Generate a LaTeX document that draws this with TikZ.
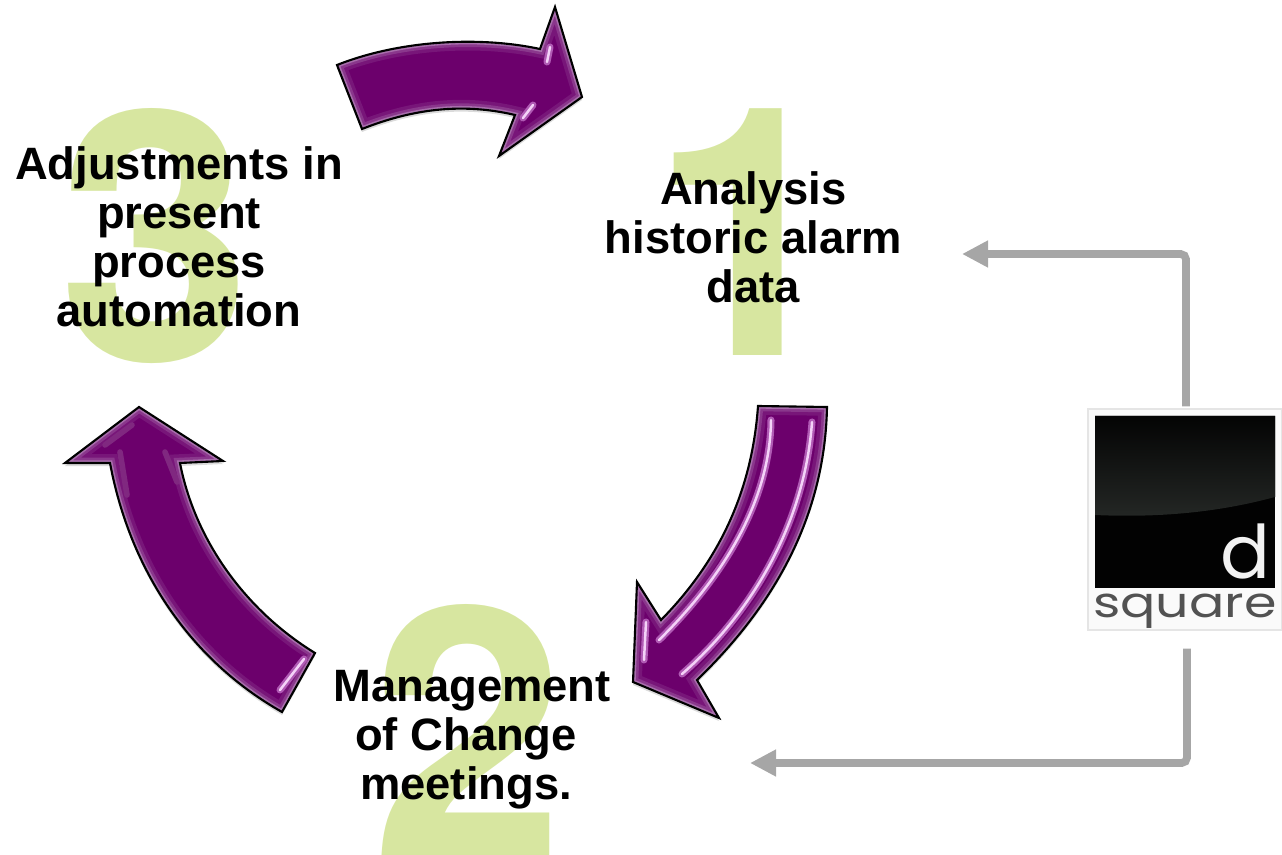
\documentclass[tikz,border=0pt]{standalone}
\usepackage{fontspec}
\usepackage{tikz}
\usetikzlibrary{arrows.meta}
\setmainfont{Liberation Sans}
\newfontfamily\numfont{TeX Gyre Heros}
\newfontfamily\logofont{Poppins}
\definecolor{mypurple}{RGB}{108,0,108}
\definecolor{mybevel}{RGB}{128,40,128}
\definecolor{myedge}{RGB}{168,110,172}
\definecolor{myglow}{RGB}{176,90,180}
\definecolor{myshine}{RGB}{244,210,248}
\definecolor{mygreen}{RGB}{215,230,160}
\definecolor{mygray}{RGB}{166,166,166}
\definecolor{mydark}{RGB}{36,39,37}
\tikzset{
  bignum/.style = {text = mygreen, font = \numfont\bfseries\fontsize{99}{99}\selectfont, inner sep = 0},
  steptext/.style = {align = center, font = \bfseries\fontsize{12.9}{13.95}\selectfont, inner sep = 0},
  feed/.style = {draw = mygray, line width = 2.2pt, rounded corners = 1.5pt, -{Triangle[length = 7.4pt, width = 7.2pt]}},
  shine/.style = {draw = myshine, line width = 0.7pt, line cap = round,
    preaction = {draw = myglow, line width = 2pt, line cap = round}},
  faint/.style = {draw = mybevel, line width = 1.6pt, line cap = round}
}
% one glossy arrow: shadow, fill, soft bevel inside the outline, black outline
\newcommand{\glossarrow}[1]{
  \fill[black, opacity = .14, shift = {(0,3)}] #1;
  \begin{scope}
    \clip #1;
    \fill[mypurple] #1;
    \draw[mypurple!80!myedge, line width = 5pt] #1;
    \draw[mypurple!50!myedge, line width = 3pt] #1;
    \draw[myedge, line width = 1.5pt] #1;
  \end{scope}
  \draw[black, line width = 0.6pt, line join = miter] #1;
}
\begin{document}
\begin{tikzpicture}[x = 0.01cm, y = -0.01cm]
    \useasboundingbox (0,0) rectangle (1282,855);

    % big numbers behind the text
    \node[bignum] (one) at (747,232) {1};
    \node[bignum] (two) at (468,730) {2};
    \node[bignum] (three) at (155,236.5) {3};

    \node[steptext] (analysis) at (753.5,237) {Analysis\\historic alarm\\data};
    \node[steptext] (change) at (472,740) {Management\\of Change\kern3.4pt\\meetings.\kern3.4pt};
    \node[steptext] (adjust) at (179,237) {Adjustments in\\present\\process\\automation};

    % top arrow
    \glossarrow{(337,65) .. controls (400,40) and (480,36) .. (540,49) -- (555,7) -- (582,97) -- (499,156)
      -- (515,115) .. controls (460,102) and (410,110) .. (362,129) -- cycle}
    \draw[shine] (550,47) -- (547,62);
    \draw[shine] (533,105) -- (523,118);

    % right arrow
    \glossarrow{(758,406) -- (827,407) .. controls (825,510) and (780,600) .. (697,680) -- (719,718)
      -- (633,682) -- (637,582) -- (661,620) .. controls (720,560) and (752,490) .. (758,406) -- cycle}
    \draw[shine] (771,420) .. controls (770,500) and (725,575) .. (659,640);
    \draw[shine] (812,422) .. controls (805,520) and (755,610) .. (682,674);
    \draw[shine] (646,622) -- (644,660);

    % left arrow
    \glossarrow{(139,407) -- (223,461) -- (180,463) .. controls (195,540) and (245,610) .. (315,653)
      -- (282,712) .. controls (190,660) and (130,570) .. (110,463) -- (65,463) -- cycle}
    \draw[faint] (132,425) -- (105,445);
    \draw[faint] (120,452) -- (127,495);
    \draw[faint] (165,452) -- (177,482);
    \draw[shine] (304,659) -- (280,690);

    % logo
    \node[fill = black!2, draw = black!10, line width = 0.3pt, minimum width = 194*0.01cm, minimum height = 221*0.01cm, inner sep = 0] (logo) at (1185,519.5) {};
    \fill[black!95!mydark] (1095,416) rectangle (1275,588);
    \fill[top color = black!90!mydark, bottom color = mydark] (1095,416) -- (1275,416) -- (1275,497) .. controls (1220,512) and (1160,518) .. (1095,515) -- cycle;
    \node[text = black!5, font = \logofont\fontsize{21}{21}\selectfont, inner sep = 0, anchor = base] (logod) at (1245,578) {d};
    \node[text = black!68, font = \logofont\fontsize{12}{12}\selectfont, inner sep = 0, anchor = base, xscale = 1.24] (logosq) at (1185,617) {square};

    % feeds from the logo
    \coordinate (feedin) at (962,254);
    \coordinate (feedout) at (750,763);
    \draw[feed] (logo.north) ++(1,-2) |- (feedin);
    \draw[feed] (logo.south) ++(2,18) |- (feedout);
\end{tikzpicture}
\end{document}
